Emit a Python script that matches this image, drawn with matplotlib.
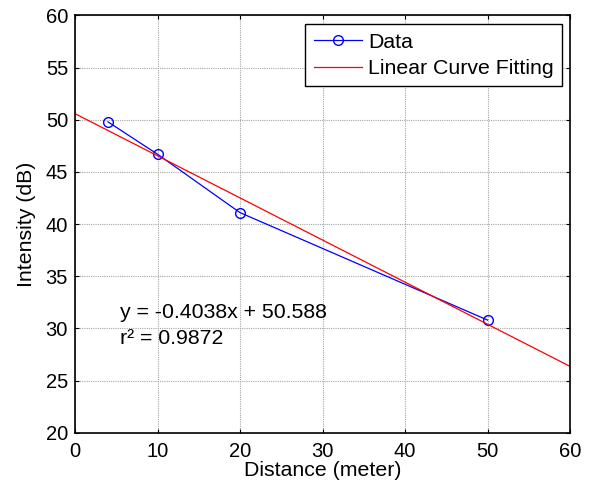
import numpy as np
import matplotlib.pyplot as plt

plt.rcParams['font.family'] = ['Liberation Sans', 'DejaVu Sans']

distance = [4, 10, 20, 50]
intensity = [49.8, 46.7, 41.1, 30.8]
slope = -0.4038
intercept = 50.588
r2 = 0.9872
x_fit = [0, 60]

fs = 15.3

fig = plt.figure(figsize=(5.89, 4.88), dpi=100)
ax = fig.add_axes([75 / 589, 55.3 / 488, 495 / 589, 417.2 / 488])

ax.plot(distance, intensity, color='blue', marker='o', markerfacecolor='none',
        markersize=7, linewidth=0.9, label='Data')
y_fit = [slope * v + intercept for v in x_fit]
ax.plot(x_fit, y_fit, color='red', linewidth=0.9, label='Linear Curve Fitting')

ax.text(5.4, 31.5, f'y = {slope}x + {intercept}', fontsize=fs, va='center')
ax.text(5.4, 29.0, f'r² = {r2}', fontsize=fs, va='center')

ax.set_xlim(0, 60)
ax.set_ylim(20, 60)
ax.set_xticks(np.arange(0, 61, 10))
ax.set_yticks(np.arange(20, 61, 5))
ax.grid(True, color='0.65', linestyle=(0, (1, 1)), linewidth=0.8)
ax.tick_params(direction='in', top=True, right=True, length=3, labelsize=14.5)
ax.tick_params(axis='x', pad=7)
ax.tick_params(axis='y', pad=5)
for s in ax.spines.values():
    s.set_linewidth(1.2)

ax.set_xlabel('Distance (meter)', fontsize=fs, labelpad=0)
ax.set_ylabel('Intensity (dB)', fontsize=fs, labelpad=7)

leg = ax.legend(loc='upper right', bbox_to_anchor=(562 / 589, 464 / 488),
                bbox_transform=fig.transFigure, borderaxespad=0, fontsize=fs,
                fancybox=False, edgecolor='black', framealpha=1,
                handlelength=2.25, handletextpad=0.3, borderpad=0.4, labelspacing=0.35)
leg.get_frame().set_linewidth(1.0)

fig.savefig('out.png', dpi=100)
